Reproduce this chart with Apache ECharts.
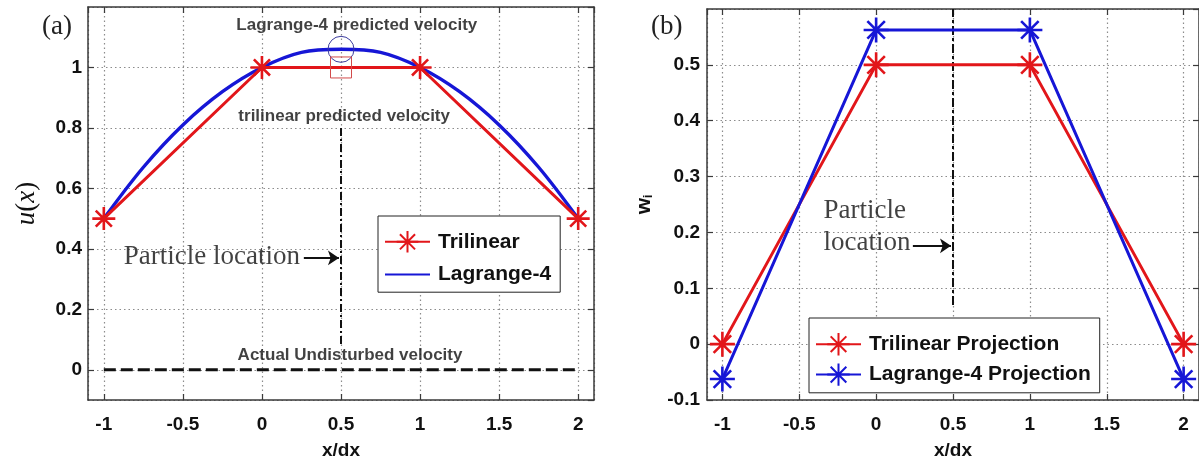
<!DOCTYPE html>
<html>
<head>
<meta charset="utf-8">
<script src="https://cdn.jsdelivr.net/npm/echarts@6/dist/echarts.min.js"></script>
<style>
  html, body { margin: 0; padding: 0; background: #fff; }
  #chart { width: 1199px; height: 465px; }
</style>
</head>
<body>
<div id="chart"></div>
<script>
// ---- panel (a): velocity seen at a particle between grid nodes ----
const xTickValues = [-1, -0.5, 0, 0.5, 1, 1.5, 2];
const triX = [-1, 0, 1, 2];
const triU = [0.5, 1, 1, 0.5];
const lagX = [-1, -0.75, -0.5, -0.25, 0, 0.25, 0.5, 0.75, 1, 1.25, 1.5, 1.75, 2];
const lagU = [0.5, 0.67, 0.81, 0.92, 1.0, 1.05, 1.06, 1.05, 1.0, 0.92, 0.81, 0.67, 0.5];
const undisturbedX = [-1, 2];
const undisturbedU = [0, 0];
const particleX = 0.5;

// ---- panel (b): projection weights on the four nodes ----
const nodeX = [-1, 0, 1, 2];
const triW = [0, 0.5, 0.5, 0];
const lagW = [-0.0625, 0.5625, 0.5625, -0.0625];

const RED = 'rgb(226,22,26)';
const BLUE = 'rgb(22,22,214)';
const AXIS = '#3a3a3a';
const ASTERISK = 'path://M10,0 L10,20 M0,10 L20,10 M3,3 L17,17 M3,17 L17,3';
const SANS = 'Liberation Sans';
const SERIF = 'Liberation Serif';

const pairs = (xs, ys) => xs.map((x, i) => [x, ys[i]]);

// value the trilinear scheme predicts at the particle (linear between nodes 0 and 1)
const triAtParticle = triU[1] + (triU[2] - triU[1]) * (particleX - triX[1]) / (triX[2] - triX[1]);
const lagAtParticle = lagU[lagX.indexOf(particleX)];

function mainX(grid, name) {
  return {
    type: 'value', gridIndex: grid, position: 'bottom', min: -1.1, max: 2.1, splitNumber: 6,
    name: name, nameLocation: 'middle', nameGap: 41,
    nameTextStyle: { fontFamily: SANS, fontWeight: 'bold', fontSize: 19, color: '#111' },
    axisLine: { show: true, onZero: false, lineStyle: { color: AXIS, width: 1.5 } },
    axisTick: { show: true, inside: true, length: 6, lineStyle: { color: AXIS, width: 1.2 } },
    axisLabel: { margin: 15, showMinLabel: false, showMaxLabel: false, color: '#111',
      fontFamily: SANS, fontWeight: 'bold', fontSize: 19 },
    splitLine: { show: true, lineStyle: { color: '#8c8c8c', width: 1.2, type: [1.5, 3] } }
  };
}
function topX(grid) {
  return {
    type: 'value', gridIndex: grid, position: 'top', min: -1.1, max: 2.1, splitNumber: 6,
    axisLine: { show: true, onZero: false, lineStyle: { color: AXIS, width: 1.5 } },
    axisTick: { show: true, inside: true, length: 6, lineStyle: { color: AXIS, width: 1.2 } },
    axisLabel: { show: false }, splitLine: { show: false }
  };
}
function leftY(grid, min, max, opts) {
  return Object.assign({
    type: 'value', gridIndex: grid, position: 'left', min: min, max: max,
    nameLocation: 'middle',
    axisLine: { show: true, onZero: false, lineStyle: { color: AXIS, width: 1.5 } },
    axisTick: { show: true, inside: true, length: 6, lineStyle: { color: AXIS, width: 1.2 } },
    splitLine: { show: true, lineStyle: { color: '#8c8c8c', width: 1.2, type: [1.5, 3] } }
  }, opts);
}
function rightY(grid, min, max, opts) {
  return Object.assign({
    type: 'value', gridIndex: grid, position: 'right', min: min, max: max,
    axisLine: { show: true, onZero: false, lineStyle: { color: AXIS, width: 1.5 } },
    axisTick: { show: true, inside: true, length: 6, lineStyle: { color: AXIS, width: 1.2 } },
    axisLabel: { show: false }, splitLine: { show: false }
  }, opts);
}

function starSeries(name, xs, ys, color, xi, size) {
  return {
    name: name, type: 'line', xAxisIndex: xi, yAxisIndex: xi,
    data: pairs(xs, ys), color: color,
    symbol: ASTERISK, symbolSize: size, showSymbol: true,
    lineStyle: { color: color, width: 3 },
    itemStyle: { color: color, borderColor: color, borderWidth: 2.6 },
    z: 4
  };
}
function noteLabel(text, x, y, opts) {
  return {
    name: text, value: [x, y],
    label: Object.assign({ show: true, position: 'inside', formatter: '{b}', color: '#111',
      fontFamily: SANS, fontWeight: 'bold', fontSize: 17 }, opts)
  };
}
function arrow(x0, x1, y) {
  return [{ coord: [x0, y] }, { coord: [x1, y] }];
}

const legendText = { fontFamily: SANS, fontWeight: 'bold', fontSize: 21, color: '#111', padding: [0, 0, 0, 3] };

const option = {
  animation: false,
  backgroundColor: '#fff',
  title: [
    { text: '(a)', left: 37, top: 8, textStyle: { fontFamily: SERIF, fontWeight: 'normal', fontSize: 27, color: '#222' } },
    { text: '(b)', left: 646, top: 8, textStyle: { fontFamily: SERIF, fontWeight: 'normal', fontSize: 27, color: '#222' } }
  ],
  grid: [
    { left: 88, right: 605, top: 7, bottom: 61.5 },
    { left: 707, right: -4.5, top: 9, bottom: 60 }
  ],
  legend: [
    {
      data: ['Trilinear', { name: 'Lagrange-4', itemStyle: { opacity: 0 } }],
      orient: 'vertical', left: 378, top: 216,
      backgroundColor: '#fff', borderColor: '#222', borderWidth: 1,
      padding: [14, 9, 7, 6], itemGap: 10, itemWidth: 45, itemHeight: 27,
      textStyle: legendText, selectedMode: false
    },
    {
      data: ['Trilinear Projection', 'Lagrange-4 Projection'], orient: 'vertical', left: 809, top: 318,
      backgroundColor: '#fff', borderColor: '#222', borderWidth: 1,
      padding: [14, 9, 6, 6], itemGap: 6, itemWidth: 45, itemHeight: 28,
      textStyle: legendText, selectedMode: false
    }
  ],
  xAxis: [mainX(0, 'x/dx'), topX(0), mainX(1, 'x/dx'), topX(1)],
  yAxis: [
    leftY(0, -0.1, 1.2, {
      splitNumber: 6, name: '{i|u}{n|(}{i|x}{n|)}', nameGap: 48, nameRotate: 90,
      nameTextStyle: { rich: {
        i: { fontFamily: SERIF, fontStyle: 'italic', fontSize: 27, color: '#111' },
        n: { fontFamily: SERIF, fontSize: 27, color: '#111' } } },
      axisLabel: { margin: 6, showMinLabel: false, showMaxLabel: false, color: '#111',
        fontFamily: SANS, fontWeight: 'bold', fontSize: 19 }
    }),
    rightY(0, -0.1, 1.2, { splitNumber: 6 }),
    leftY(1, -0.1, 0.6, {
      interval: 0.1, name: '{w|w}{s|i}', nameGap: 52, nameRotate: 90,
      nameTextStyle: { rich: {
        w: { fontFamily: SANS, fontWeight: 'bold', fontSize: 21, color: '#111' },
        s: { fontFamily: SANS, fontWeight: 'bold', fontSize: 12, color: '#111', verticalAlign: 'bottom', padding: [10, 0, 0, 0] } } },
      axisLabel: { margin: 7, showMinLabel: true, showMaxLabel: false, color: '#111',
        fontFamily: SANS, fontWeight: 'bold', fontSize: 19 }
    }),
    rightY(1, -0.1, 0.6, { interval: 0.1 })
  ],
  series: [
    // (a)
    {
      name: 'Lagrange-4', type: 'line', xAxisIndex: 0, yAxisIndex: 0,
      data: pairs(lagX, lagU), smooth: 0.35, symbol: 'none', color: BLUE,
      lineStyle: { color: BLUE, width: 3.4 }, z: 3
    },
    starSeries('Trilinear', triX, triU, RED, 0, 23),
    {
      name: 'Actual Undisturbed velocity', type: 'line', xAxisIndex: 0, yAxisIndex: 0,
      data: pairs(undisturbedX, undisturbedU), symbol: 'none',
      lineStyle: { color: '#111', width: 3, type: [12, 5] }, z: 2
    },
    {
      name: 'particle-a', type: 'line', xAxisIndex: 0, yAxisIndex: 0,
      data: [[particleX, 0.085], [particleX, 0.81]], symbol: 'none',
      lineStyle: { color: '#111', width: 2, type: [8, 3, 2, 3] }, z: 2
    },
    {
      name: 'notes-a', type: 'scatter', xAxisIndex: 0, yAxisIndex: 0, symbolSize: 0, z: 5,
      data: [
        noteLabel('Lagrange-4 predicted velocity', 0.60, 1.14),
        noteLabel('trilinear predicted velocity', 0.52, 0.839),
        noteLabel('Actual Undisturbed velocity', 0.557, 0.048),
        noteLabel('Particle location', 0.24, 0.374, { align: 'right', fontFamily: SERIF, fontWeight: 'normal', fontSize: 27 })
      ],
      markLine: {
        silent: true, symbol: ['none', 'arrow'], symbolSize: 11, label: { show: false },
        lineStyle: { color: '#111', width: 2, type: 'solid' },
        data: [arrow(0.265, 0.487, 0.37)]
      },
      markPoint: {
        silent: true, label: { show: false },
        data: [
          { coord: [particleX, lagAtParticle], symbol: 'circle', symbolSize: 26,
            itemStyle: { color: 'transparent', borderColor: '#3d3d9e', borderWidth: 1 } },
          { coord: [particleX, triAtParticle], symbol: 'rect', symbolSize: 21,
            itemStyle: { color: 'transparent', borderColor: '#d24a4a', borderWidth: 1 } }
        ]
      }
    },
    // (b)
    starSeries('Trilinear Projection', nodeX, triW, RED, 2, 25),
    starSeries('Lagrange-4 Projection', nodeX, lagW, BLUE, 2, 25),
    {
      name: 'particle-b', type: 'line', xAxisIndex: 2, yAxisIndex: 2,
      data: [[particleX, 0.07], [particleX, 0.6]], symbol: 'none',
      lineStyle: { color: '#111', width: 2, type: [9, 3, 3, 3] }, z: 2
    },
    {
      name: 'notes-b', type: 'scatter', xAxisIndex: 2, yAxisIndex: 2, symbolSize: 0, z: 5,
      data: [
        noteLabel('Particle', -0.342, 0.239, { align: 'left', fontFamily: SERIF, fontWeight: 'normal', fontSize: 27 }),
        noteLabel('location', -0.342, 0.181, { align: 'left', fontFamily: SERIF, fontWeight: 'normal', fontSize: 27 })
      ],
      markLine: {
        silent: true, symbol: ['none', 'arrow'], symbolSize: 11, label: { show: false },
        lineStyle: { color: '#111', width: 2, type: 'solid' },
        data: [arrow(0.239, 0.487, 0.176)]
      }
    }
  ]
};

const chart = echarts.init(document.getElementById('chart'), null, { renderer: 'canvas' });
chart.setOption(option);
</script>
</body>
</html>
